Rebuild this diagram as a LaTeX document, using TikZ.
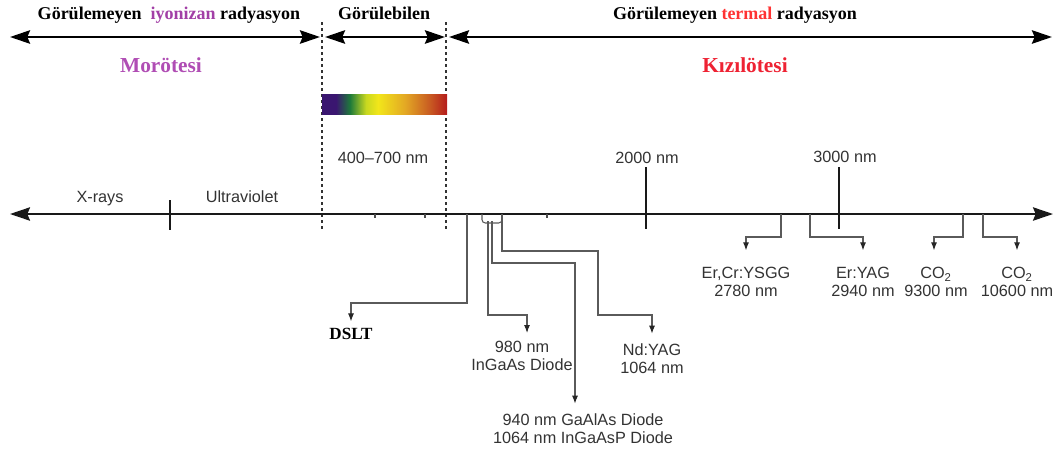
\documentclass[tikz,border=0pt]{standalone}
\usepackage{fontspec}
\setmainfont{Liberation Serif}
\newfontfamily\helv{Liberation Sans}
\usetikzlibrary{arrows.meta}
\definecolor{lblgray}{HTML}{333333}
\definecolor{conngray}{HTML}{5A5A5A}
\definecolor{ionpurple}{HTML}{A23FA6}
\definecolor{uvpurple}{HTML}{B04DB4}
\definecolor{termred}{HTML}{FF3333}
\definecolor{irred}{HTML}{EE2233}
\definecolor{sp1}{HTML}{3A1670}
\definecolor{sp2}{HTML}{1E7A3A}
\definecolor{sp3}{HTML}{C8D820}
\definecolor{sp4}{HTML}{F2E61A}
\definecolor{sp5}{HTML}{E3A824}
\definecolor{sp6}{HTML}{C85A22}
\definecolor{sp7}{HTML}{B51C1C}
\pgfdeclarehorizontalshading{spectrumshade}{100bp}{color(0bp)=(sp1); color(25bp)=(sp1); color(30.6bp)=(sp1); color(36.2bp)=(sp2); color(42.6bp)=(sp3); color(47.4bp)=(sp4); color(58.2bp)=(sp5); color(68.2bp)=(sp6); color(75bp)=(sp7); color(100bp)=(sp7)}
\begin{document}
\begin{tikzpicture}[x=0.75pt,y=-0.75pt,
  title/.style={font=\fontsize{13.5}{16}\selectfont\bfseries, inner sep=0pt, anchor=base},
  region/.style={font=\fontsize{16}{19}\selectfont\bfseries, inner sep=0pt, anchor=base},
  lblone/.style={font=\helv\fontsize{12.2}{14}\selectfont, text=lblgray, inner sep=0pt, anchor=base},
  lbl/.style={font=\helv\fontsize{12.2}{13.6}\selectfont, text=lblgray, align=center, inner sep=0pt, anchor=north},
  bigarrow/.style={line width=2pt, draw=black, {Stealth[length=15pt,width=10pt,inset=2pt]}-{Stealth[length=15pt,width=10pt,inset=2pt]}},
  axisline/.style={line width=1.6pt, draw=black!90, {Stealth[length=15pt,width=10pt,inset=2pt]}-{Stealth[length=15pt,width=10pt,inset=2pt]}},
  conn/.style={draw=conngray, line width=0.8pt, -{Latex[length=6pt,width=4.5pt,color=black!85]}, shorten >=6pt},
  connR/.style={conn, shorten >=12.5pt},
  tickmark/.style={line width=1.5pt, draw=black!90},
  minortick/.style={line width=0.8pt, draw=black!70},
  divider/.style={line width=1.4pt, draw=black!80, dash pattern=on 2.5pt off 2pt}]
\useasboundingbox (0,0) rectangle (1062,454);

% top titles
\node[title] (tIon) at (169,19.5) {Görülemeyen\ \ \textcolor{ionpurple}{iyonizan} radyasyon};
\node[title] (tVis) at (384,19.5) {Görülebilen};
\node[title] (tTerm) at (735,19.5) {Görülemeyen \textcolor{termred}{termal} radyasyon};

% top range arrows
\draw[bigarrow] (10,37) -- (320,37);
\draw[bigarrow] (325,37) -- (445,37);
\draw[bigarrow] (449,37) -- (1052,37);

% region names
\node[region, text=uvpurple] (uvname) at (161,72) {Morötesi};
\node[region, text=irred] (irname) at (745,72) {Kızılötesi};

% dotted dividers
\draw[divider] (322,22) -- (322,229);
\draw[divider] (446,22) -- (446,229);

% visible spectrum bar
\shade[shading=spectrumshade] (322,94) rectangle (447,114);

% axis labels
\node[lblone] (vis) at (383,163) {400–700 nm};
\node[lblone] (xr) at (100,202) {X-rays};
\node[lblone] (uv) at (242,202) {Ultraviolet};
\node[lblone] (n2000) at (647,163) {2000 nm};
\node[lblone] (n3000) at (845,162) {3000 nm};

% main axis
\draw[axisline] (10,214) -- (1053,214);
\draw[tickmark] (170,200) -- (170,230);
\draw[tickmark] (646,167) -- (646,229);
\draw[tickmark] (839,167) -- (839,229);
\draw[minortick] (375,214) -- (375,217.5);
\draw[minortick] (425,214) -- (425,217.5);
\draw[minortick] (547,214) -- (547,217.5);

% axis points
\coordinate (aDSLT) at (467,214);
\coordinate (a980) at (488,221);
\coordinate (a940) at (492,221);
\coordinate (aNd) at (502,214);
\coordinate (aErCr) at (781,214);
\coordinate (aErYAG) at (810,214);
\coordinate (aCOa) at (963,214);
\coordinate (aCOb) at (983,214);

% small bracket under the axis
\draw[draw=conngray, line width=0.8pt, rounded corners=2.5pt] (482,214) -- (482,223) -- (502,223) -- (502,216);

% laser labels
\node[font=\fontsize{12.8}{15}\selectfont\bfseries, inner sep=0pt, anchor=base] (tDSLT) at (351,339) {DSLT};
\node[lbl] (t980) at (522,341) {980 nm\\InGaAs Diode};
\node[lbl] (t940) at (583,413) {940 nm GaAlAs Diode\\1064 nm InGaAsP Diode};
\node[lbl] (tNd) at (652,343) {Nd:YAG\\1064 nm};
\node[lbl] (tErCr) at (746,267) {Er,Cr:YSGG\\2780 nm};
\node[lbl] (tErYAG) at (863,267) {Er:YAG\\2940 nm};
\node[lbl] (tCOa) at (936,267) {CO\textsubscript{2}\\9300 nm};
\node[lbl] (tCOb) at (1017,267) {CO\textsubscript{2}\\10600 nm};

% connectors
\draw[conn, shorten >=4.5pt] (aDSLT) -- (aDSLT |- 0,303) -| (tDSLT.north);
\draw[conn] (a980) -- (a980 |- 0,315) -| ([xshift=3.75pt]t980.north);
\draw[conn, shorten >=7pt] (a940) -- (a940 |- 0,263) -| ([xshift=-6pt]t940.north);
\draw[conn, shorten >=7pt] (aNd) -- (aNd |- 0,251) -- (598,251) -- (598,315) -| (tNd.north);
\draw[connR] (aErCr) -- (aErCr |- 0,237) -| (tErCr.north);
\draw[connR] (aErYAG) -- (aErYAG |- 0,237) -| (tErYAG.north);
\draw[connR] (aCOa) -- (aCOa |- 0,237) -| ([xshift=-1.5pt]tCOa.north);
\draw[connR] (aCOb) -- (aCOb |- 0,237) -| (tCOb.north);
\end{tikzpicture}
\end{document}
